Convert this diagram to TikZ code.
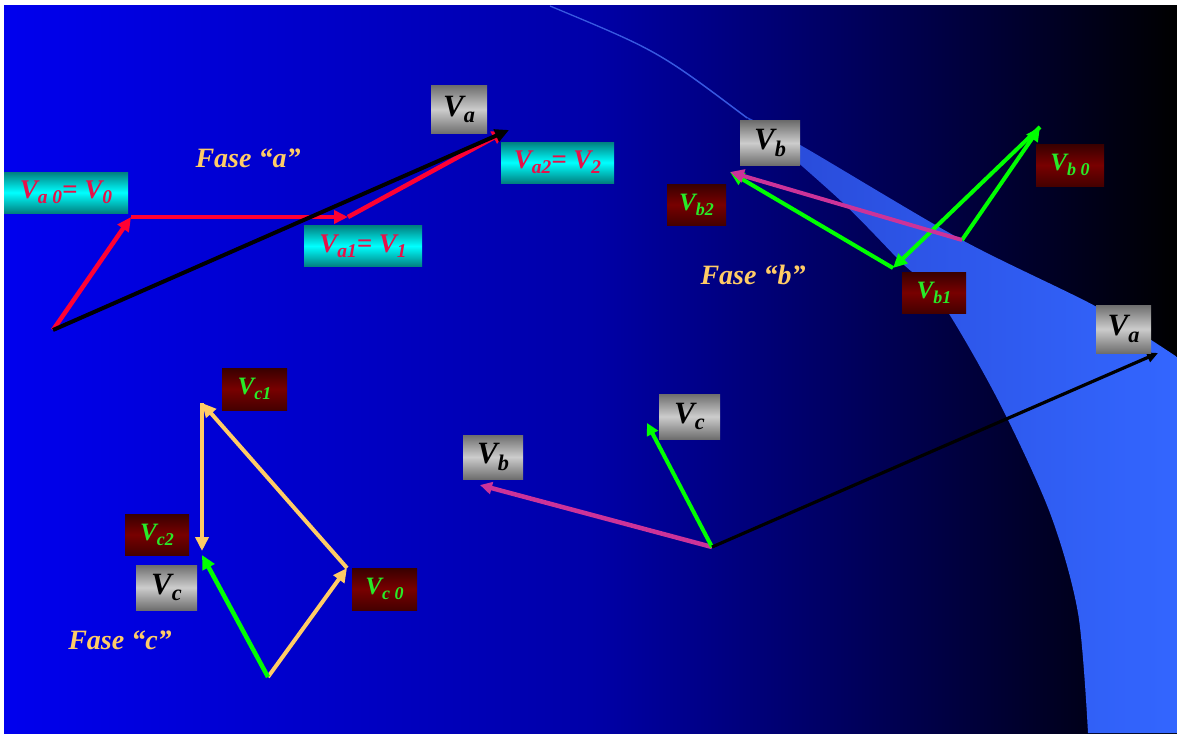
\documentclass[tikz,border=0pt]{standalone}
\usepackage{fontspec}
\setmainfont{Liberation Serif}
\usetikzlibrary{arrows.meta}
\definecolor{slideleft}{RGB}{0,0,238}
\definecolor{slidemid}{RGB}{0,0,168}
\definecolor{bandleft}{RGB}{36,60,196}
\definecolor{bandright}{HTML}{3366FF}
\definecolor{bandtail}{RGB}{56,88,224}
\definecolor{phasered}{RGB}{255,0,51}
\definecolor{phasemagenta}{RGB}{204,51,153}
\definecolor{phasegreen}{RGB}{0,255,0}
\definecolor{phaseorange}{RGB}{255,204,102}
\definecolor{cyantext}{RGB}{232,16,72}
\definecolor{maroontext}{RGB}{40,235,40}
\definecolor{grayedge}{RGB}{110,110,110}
\definecolor{graymid}{RGB}{204,204,204}
\definecolor{maroonedge}{RGB}{56,0,0}
\definecolor{maroonmid}{RGB}{120,0,0}
\definecolor{cyanedge}{RGB}{0,128,128}
\definecolor{cyanmid}{RGB}{0,255,255}
\newcommand{\phsub}[1]{\raisebox{-0.2em}{\scalebox{0.72}{#1}}}

\begin{document}
\begin{tikzpicture}[x=1pt,y=-1pt,
    vec/.style={line width=4.5pt,-{Triangle[length=14pt,width=13pt]}},
    slimvec/.style={line width=3.2pt,-{Triangle[length=11pt,width=10pt]}},
    graybox/.style={inner sep=0pt,minimum width=58pt,minimum height=46pt,
      top color=grayedge,bottom color=grayedge,middle color=graymid,
      font=\fontsize{31}{33}\selectfont\bfseries\itshape},
    maroonbox/.style={inner sep=0pt,minimum width=65pt,minimum height=42pt,
      top color=maroonedge,bottom color=maroonedge!80!maroonmid,middle color=maroonmid,
      text=maroontext,font=\fontsize{25}{27}\selectfont\bfseries\itshape},
    cyanbox/.style={inner sep=0pt,minimum height=41pt,
      top color=cyanedge,bottom color=cyanedge,middle color=cyanmid,
      text=cyantext,font=\fontsize{27}{29}\selectfont\bfseries\itshape},
    fase/.style={text=phaseorange,font=\fontsize{28}{30}\selectfont\bfseries\itshape}]
  \useasboundingbox (0,0) rectangle (1177,733);
  \fill[white] (0,0) rectangle (1177,733);
  \shade[left color=slideleft,right color=black,middle color=slidemid] (4,6) rectangle (1177,733);
  \shade[left color=bandleft,right color=bandright]
    (550,6) .. controls (658,51) .. (747,118)
    -- plot[smooth] coordinates {(747,118) (841,201) (901,262) (940,300) (998,400) (1050,513) (1078,613) (1088,733)}
    -- (1177,733) -- (1177,357)
    -- plot[smooth] coordinates {(1177,357) (1097,307) (962,240) (802,146) (747,117)}
    .. controls (658,50) .. (550,6) -- cycle;
  \draw[bandtail,line width=1.3pt] (550,6) .. controls (658,51) .. (747,118);

  % fase a
  \coordinate (Oa) at (53,330);
  \coordinate (Ta0) at (131,217);
  \coordinate (Ta1) at (348,217);
  \coordinate (Ta2) at (506,131);
  \coordinate (Ta) at (509,130);
  \draw[vec,phasered] (Oa) -- (Ta0);
  \draw[vec,phasered] (Ta0) -- (Ta1);
  \draw[vec,phasered] (Ta1) -- (Ta2);
  \draw[vec,black,line width=4pt] (Oa) -- (Ta);

  % fase b
  \coordinate (Ob) at (962,240);
  \coordinate (Tb0) at (1040,127);
  \coordinate (Tb1) at (893,268);
  \coordinate (Tb2) at (730,172);
  \draw[vec,phasegreen,line width=4pt] (Ob) -- (Tb0);
  \draw[vec,phasegreen,line width=4pt] (Tb0) -- (Tb1);
  \draw[vec,phasegreen,line width=4pt] (Tb1) -- (Tb2);
  \draw[vec,phasemagenta,line width=4pt] (Ob) -- (Tb2);

  % fase c
  \coordinate (Oc) at (268,677);
  \coordinate (Tc0) at (347,568);
  \coordinate (Tc1) at (202,403);
  \coordinate (Tc2) at (202,551);
  \coordinate (Tc) at (202,555);
  \draw[vec,phaseorange,line width=4pt] (Oc) -- (Tc0);
  \draw[vec,phaseorange,line width=4pt] (Tc0) -- (Tc1);
  \draw[vec,phaseorange,line width=4pt] (Tc1) -- (Tc2);
  \draw[vec,phasegreen] (Oc) -- (Tc);

  % resultantes
  \coordinate (O) at (712,547);
  \coordinate (Tb) at (480,485);
  \coordinate (Tc) at (647,423);
  \coordinate (Tr) at (1158,353);
  \draw[vec,phasemagenta,-{Triangle[length=12pt,width=12pt]}] (O) -- (Tb);
  \draw[vec,phasegreen,line width=4pt,-{Triangle[length=12pt,width=12pt]}] (O) -- (Tc);
  \draw[slimvec,black] (O) -- (Tr);

  \node[cyanbox,minimum width=124pt] (va0) at (66,192.5) {V\phsub{a 0}= V\phsub{0}};
  \node[cyanbox,minimum width=118pt] (va1) at (363,246) {V\phsub{a1}= V\phsub{1}};
  \node[cyanbox,minimum width=113pt] (va2) at (557.5,162.5) {V\phsub{a2}= V\phsub{2}};
  \node[graybox,minimum width=56pt,minimum height=48pt] (va) at (459,109.5) {V\phsub{a}};

  \node[graybox,minimum width=60pt,minimum height=44pt] (vb) at (770,143) {V\phsub{b}};
  \node[maroonbox,minimum width=59pt,minimum height=41pt] (vb2) at (696.5,204.5) {V\phsub{b2}};
  \node[maroonbox,minimum width=68pt] (vb0) at (1070,165) {V\phsub{b 0}};
  \node[maroonbox,minimum width=64pt,minimum height=41pt] (vb1) at (934,292.5) {V\phsub{b1}};

  \node[maroonbox] (vc1) at (254.5,389) {V\phsub{c1}};
  \node[maroonbox,minimum width=64pt,minimum height=41pt] (vc2) at (157,534.5) {V\phsub{c2}};
  \node[maroonbox] (vc0) at (384.5,589) {V\phsub{c 0}};
  \node[graybox,minimum width=61pt,minimum height=45pt] (vc) at (166.5,587.5) {V\phsub{c}};

  \node[graybox,minimum width=60pt,minimum height=44pt] (vbr) at (493,457) {V\phsub{b}};
  \node[graybox,minimum width=61pt,minimum height=45pt] (vcr) at (689.5,416.5) {V\phsub{c}};
  \node[graybox,minimum width=55pt,minimum height=48pt] (var) at (1123.5,329) {V\phsub{a}};

  \node[fase] (fasea) at (248,158) {Fase “a”};
  \node[fase] (faseb) at (753,275) {Fase “b”};
  \node[fase] (fasec) at (120,640) {Fase “c”};
\end{tikzpicture}
\end{document}
